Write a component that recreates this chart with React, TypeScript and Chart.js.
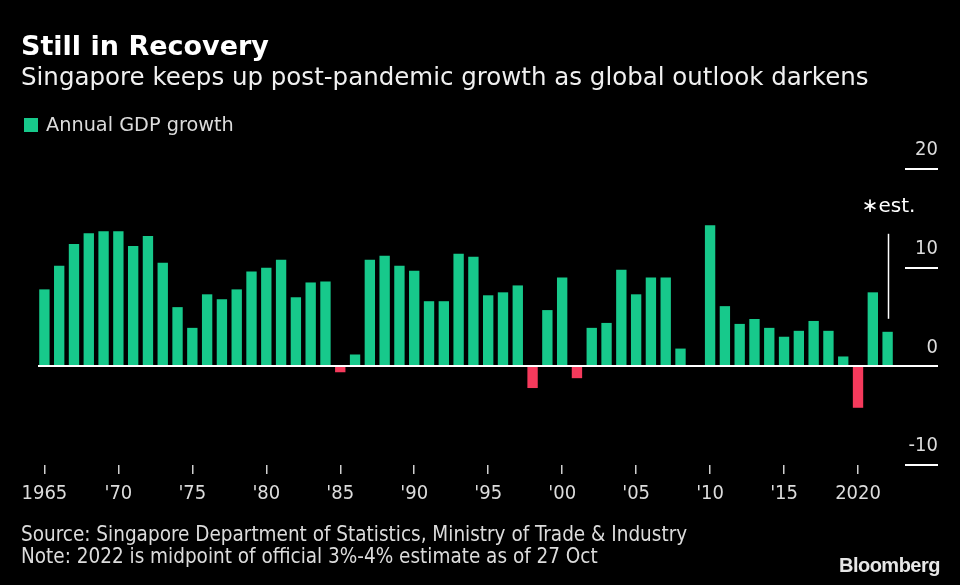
import React, { useEffect, useRef } from "react";
import { Chart, registerables } from "chart.js";

Chart.register(...registerables);

const years: number[] = [
  1965, 1966, 1967, 1968, 1969, 1970, 1971, 1972, 1973, 1974,
  1975, 1976, 1977, 1978, 1979, 1980, 1981, 1982, 1983, 1984,
  1985, 1986, 1987, 1988, 1989, 1990, 1991, 1992, 1993, 1994,
  1995, 1996, 1997, 1998, 1999, 2000, 2001, 2002, 2003, 2004,
  2005, 2006, 2007, 2008, 2009, 2010, 2011, 2012, 2013, 2014,
  2015, 2016, 2017, 2018, 2019, 2020, 2021, 2022,
];

const gdpGrowth: number[] = [
  7.8, 10.2, 12.4, 13.5, 13.7, 13.7, 12.2, 13.2, 10.5, 6.0,
  3.9, 7.3, 6.8, 7.8, 9.6, 10.0, 10.8, 7.0, 8.5, 8.6,
  -0.6, 1.2, 10.8, 11.2, 10.2, 9.7, 6.6, 6.6, 11.4, 11.1,
  7.2, 7.5, 8.2, -2.2, 5.7, 9.0, -1.2, 3.9, 4.4, 9.8,
  7.3, 9.0, 9.0, 1.8, 0.1, 14.3, 6.1, 4.3, 4.8, 3.9,
  3.0, 3.6, 4.6, 3.6, 1.0, -4.2, 7.5, 3.5,
];

const tickYears: number[] = [1965, 1970, 1975, 1980, 1985, 1990, 1995, 2000, 2005, 2010, 2015, 2020];
const tickLabels: string[] = ["1965", "'70", "'75", "'80", "'85", "'90", "'95", "'00", "'05", "'10", "'15", "2020"];
const yTicks: number[] = [-10, 0, 10, 20];

const GREEN = "#17c98b";
const RED = "#f53a5c";
const TEXT = "#dcdcdc";
const COND = "'DejaVu Sans Condensed', 'Liberation Sans Narrow', 'DejaVu Sans', sans-serif";
const SANS = "'DejaVu Sans', sans-serif";

const overlayPlugin = {
  id: "overlay",
  afterDatasetsDraw(chart: any) {
    const { ctx, chartArea, scales } = chart;
    const x = scales.x;
    const y = scales.y;
    ctx.save();
    ctx.strokeStyle = "#ffffff";
    ctx.lineWidth = 2;
    yTicks.forEach((v) => {
      const py = Math.round(y.getPixelForValue(v));
      ctx.beginPath();
      if (v === 0) {
        ctx.moveTo(chartArea.left + 1, py);
      } else {
        ctx.moveTo(y.right - 33, py);
      }
      ctx.lineTo(y.right, py);
      ctx.stroke();
    });
    const i = years.length - 1;
    const px = Math.round(x.getPixelForValue(i)) + 0.5;
    const top = y.getPixelForValue(gdpGrowth[i]);
    ctx.lineWidth = 1.5;
    ctx.beginPath();
    ctx.moveTo(px, top - 13);
    ctx.lineTo(px, top - 98);
    ctx.stroke();
    ctx.fillStyle = "#ffffff";
    ctx.font = "20px " + SANS;
    ctx.textAlign = "center";
    ctx.textBaseline = "middle";
    ctx.fillText("\u2217est.", px, top - 125);
    ctx.restore();
  },
};

export default function App() {
  const canvasRef = useRef<HTMLCanvasElement | null>(null);

  useEffect(() => {
    document.body.style.margin = "0";
    document.body.style.background = "#000";
    const canvas = canvasRef.current;
    if (!canvas) return;
    const chart = new Chart(canvas, {
      type: "bar",
      data: {
        labels: years.map(String),
        datasets: [
          {
            label: "Annual GDP growth",
            data: gdpGrowth,
            backgroundColor: gdpGrowth.map((v) => (v < 0 ? RED : GREEN)),
            borderWidth: 0,
            categoryPercentage: 1,
            barPercentage: 0.7,
          },
        ],
      },
      options: {
        responsive: false,
        animation: false,
        maintainAspectRatio: false,
        layout: { padding: { left: 37, right: 22, top: 169, bottom: 70 } },
        plugins: {
          legend: { display: false },
          title: { display: false },
          tooltip: { enabled: false },
        },
        scales: {
          x: {
            type: "category",
            offset: true,
            border: { display: false },
            grid: {
              display: true,
              drawOnChartArea: false,
              drawTicks: true,
              tickLength: 9,
              offset: false,
              lineWidth: 1.5,
              color: (c: any) => (tickYears.includes(years[c.index]) ? "#cfcfcf" : "rgba(0,0,0,0)"),
            },
            ticks: {
              autoSkip: false,
              maxRotation: 0,
              minRotation: 0,
              padding: 8,
              color: TEXT,
              font: { family: COND, size: 20 },
              callback: (_v: any, idx: number) => {
                const k = tickYears.indexOf(years[idx]);
                return k >= 0 ? tickLabels[k] : "";
              },
            },
            afterFit: (s: any) => {
              s.height = 50;
            },
          },
          y: {
            position: "right",
            min: -10,
            max: 20,
            border: { display: false },
            grid: { display: false },
            ticks: {
              stepSize: 10,
              crossAlign: "far",
              labelOffset: -19,
              padding: 0,
              color: TEXT,
              font: { family: COND, size: 20 },
              callback: (v: any) => String(v),
            },
            afterFit: (s: any) => {
              s.width = 43;
            },
          },
        },
      },
      plugins: [overlayPlugin],
    });
    return () => chart.destroy();
  }, []);

  const abs = (extra: React.CSSProperties): React.CSSProperties => ({
    position: "absolute",
    whiteSpace: "nowrap",
    margin: 0,
    ...extra,
  });

  return (
    <div style={{ position: "fixed", left: 0, top: 0, width: 960, height: 585, background: "#000", overflow: "hidden" }}>
      <canvas ref={canvasRef} width={960} height={585} style={{ position: "absolute", left: 0, top: 0, width: 960, height: 585 }} />
      <div style={abs({ left: 21, top: 30, fontFamily: SANS, fontWeight: "bold", fontSize: 27, lineHeight: "32px", color: "#fff" })}>
        Still in Recovery
      </div>
      <div style={abs({ left: 21, top: 62, fontFamily: SANS, fontSize: 24.5, lineHeight: "30px", color: "#f0f0f0" })}>
        Singapore keeps up post-pandemic growth as global outlook darkens
      </div>
      <div style={abs({ left: 24, top: 118, width: 14, height: 14, background: GREEN })} />
      <div style={abs({ left: 46, top: 112, fontFamily: SANS, fontSize: 19.3, lineHeight: "26px", color: TEXT })}>
        Annual GDP growth
      </div>
      <div style={abs({ left: 21, top: 523, fontFamily: COND, fontSize: 20.5, lineHeight: "22px", color: TEXT })}>
        Source: Singapore Department of Statistics, Ministry of Trade &amp; Industry
      </div>
      <div style={abs({ left: 21, top: 545, fontFamily: COND, fontSize: 20.5, lineHeight: "22px", color: TEXT })}>
        Note: 2022 is midpoint of official 3%-4% estimate as of 27 Oct
      </div>
      <div style={abs({ right: 20, top: 553, fontFamily: "'Liberation Sans Narrow', 'Liberation Sans', sans-serif", fontWeight: "bold", fontSize: 20, lineHeight: "24px", color: "#e6e6e6", letterSpacing: "-0.5px" })}>
        Bloomberg
      </div>
    </div>
  );
}
